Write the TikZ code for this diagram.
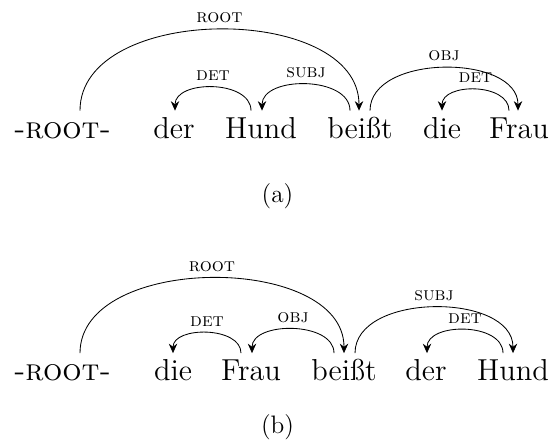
\documentclass[tikz,border=0pt]{standalone}
\usepackage{fontspec}
\usepackage{tikz}
\usetikzlibrary{calc,arrows.meta}
\tikzset{
	word/.style={font=\Large, anchor=base, inner sep=0pt, text height=12.8pt, text depth=4pt},
	dep/.style={-{Stealth[length=4.5pt,width=4pt]}},
	lab/.style={font=\small\scshape, above, inner sep=3pt, midway},
	caption/.style={font=\large}
}

\begin{document}
\begin{tikzpicture}[x=0.475pt, y=-0.475pt]
			\useasboundingbox (0,0) rectangle (552,445);
			
			%%%%% (a) %%%%%
			
			\node[word] (rootA) at (62.5, 138) {\textsc{-root-}};
			\node[word] (derA) at (174, 138) {der};
			\node[word] (hundA) at (261, 138) {Hund};
			\node[word] (beisstA) at (360, 138) {beißt};
			\node[word] (dieA) at (442, 138) {die};
			\node[word] (frauA) at (519, 138) {Frau};
			
			\draw[dep] ($(rootA.north)+(17.5,0)$) .. controls +(0,-108) and +(0,-108) .. ($(beisstA.north)+(-1,0)$) node[lab] {root};
			\draw[dep] ($(hundA.north)+(-10,0)$) .. controls +(0,-31) and +(0,-31) .. ($(derA.north)+(1,0)$) node[lab] {det};
			\draw[dep] ($(beisstA.north)+(-10,0)$) .. controls +(0,-35) and +(0,-35) .. ($(hundA.north)+(1,0)$) node[lab] {subj};
			\draw[dep] ($(beisstA.north)+(10,0)$) .. controls +(0,-57) and +(0,-57) .. ($(frauA.north)+(-1,0)$) node[lab] {obj};
			\draw[dep] ($(frauA.north)+(-10,0)$) .. controls +(0,-28) and +(0,-28) .. (dieA.north) node[lab] {det};
			
			\node[caption] (capA) at (277.5, 196) {(a)};
			
			%%%%% (b) %%%%%
			
			\node[word] (rootB) at (62.5, 380.5) {\textsc{-root-}};
			\node[word] (dieB) at (173, 380.5) {die};
			\node[word] (frauB) at (251, 380.5) {Frau};
			\node[word] (beisstB) at (344, 380.5) {beißt};
			\node[word] (derB) at (426, 380.5) {der};
			\node[word] (hundB) at (513, 380.5) {Hund};
			
			\draw[dep] ($(rootB.north)+(17.5,0)$) .. controls +(0,-100) and +(0,-100) .. (beisstB.north) node[lab] {root};
			\draw[dep] ($(frauB.north)+(-10,0)$) .. controls +(0,-27) and +(0,-27) .. (dieB.north) node[lab] {det};
			\draw[dep] ($(beisstB.north)+(-10,0)$) .. controls +(0,-32) and +(0,-32) .. ($(frauB.north)+(1,0)$) node[lab] {obj};
			\draw[dep] ($(beisstB.north)+(11,0)$) .. controls +(0,-61) and +(0,-61) .. (hundB.north) node[lab] {subj};
			\draw[dep] ($(hundB.north)+(-10,0)$) .. controls +(0,-31) and +(0,-31) .. ($(derB.north)+(1,0)$) node[lab] {det};
			
			\node[caption] (capB) at (277.5, 427) {(b)};
			
			%%%%% END %%%%%
\end{tikzpicture}
\end{document}
